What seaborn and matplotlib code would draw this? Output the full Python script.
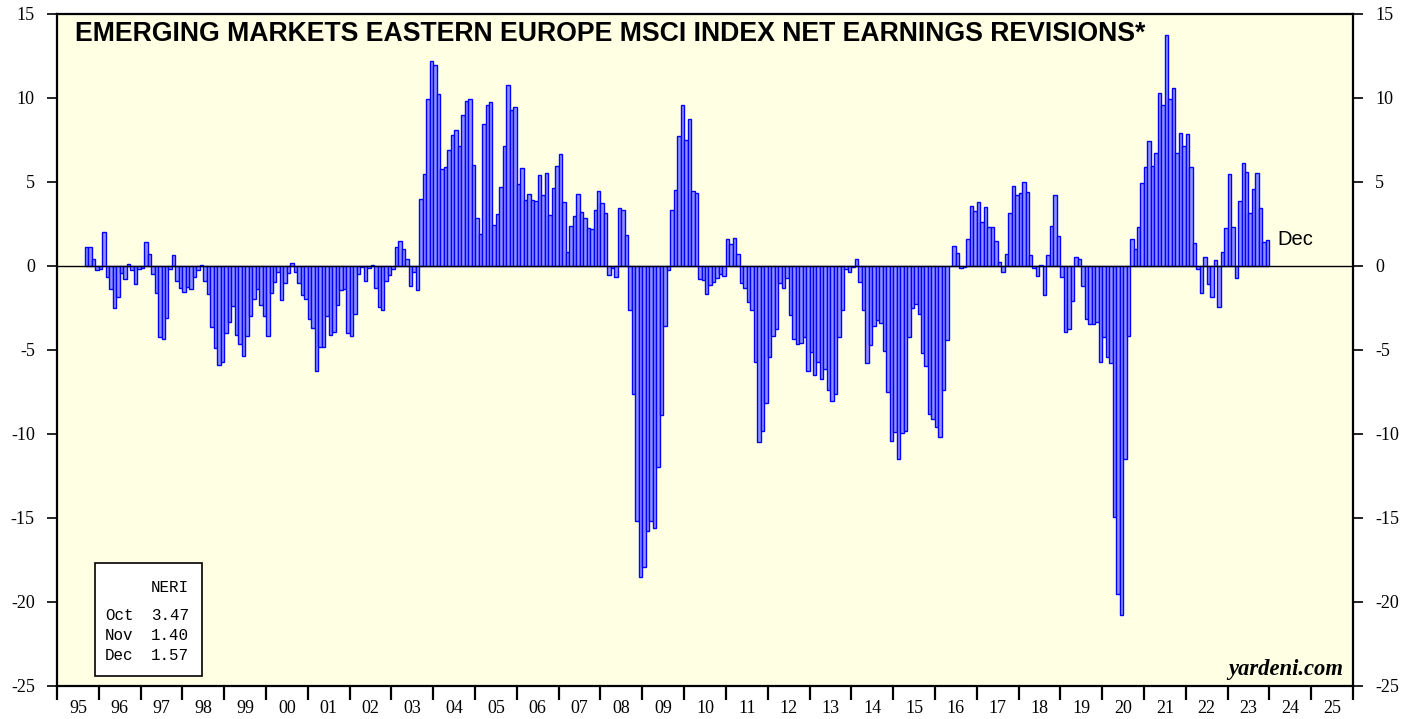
import matplotlib

matplotlib.use("Agg")
import matplotlib.pyplot as plt
import numpy as np
import pandas as pd
import seaborn as sns
from matplotlib.patches import Rectangle
from matplotlib.ticker import FixedFormatter, FixedLocator

# monthly NERI values, first value is Sep 1995
first_year = 1995
first_month = 9
neri_1995 = [1.15, 1.15, 0.4, -0.24]
neri_1996 = [-0.2, 2.0, -0.67, -1.39, -2.5, -1.83, -0.44, -0.77, 0.1, -0.24, -1.05, -0.2]
neri_1997 = [-0.14, 1.4, 0.71, -0.5, -1.63, -4.25, -4.35, -3.11, -0.18, 0.63, -0.9, -1.33]
neri_1998 = [-1.57, -1.27, -1.39, -0.65, -0.26, 0.04, -0.9, -1.67, -3.63, -4.9, -5.89, -5.73]
neri_1999 = [-3.99, -3.31, -2.36, -4.1, -4.66, -5.34, -4.17, -2.96, -1.98, -1.39, -2.32, -3.0]
neri_2000 = [-4.17, -1.6, -0.95, -0.34, -2.0, -1.03, -0.4, 0.16, -0.38, -1.03, -1.7, -1.94]
neri_2001 = [-3.17, -3.7, -6.25, -4.84, -4.84, -3.0, -4.13, -3.95, -2.32, -1.43, -1.39, -4.0]
neri_2002 = [-4.17, -2.86, -0.5, -0.04, -0.9, -0.1, 0.08, -1.29, -2.46, -2.62, -0.91, -0.54]
neri_2003 = [-0.18, 1.11, 1.5, 1.03, 0.44, -1.18, -0.38, -1.43, 3.99, 5.5, 9.96, 12.18]
neri_2004 = [11.98, 10.26, 5.75, 5.9, 6.88, 7.82, 8.1, 7.16, 9.0, 9.82, 9.96, 5.99]
neri_2005 = [2.84, 1.88, 8.45, 9.56, 9.74, 2.44, 3.08, 4.68, 7.16, 10.75, 9.27, 9.48]
neri_2006 = [4.86, 5.85, 3.95, 4.31, 3.95, 3.89, 5.44, 4.25, 5.52, 3.06, 4.62, 5.93]
neri_2007 = [6.69, 3.83, 0.85, 2.36, 2.96, 4.29, 3.23, 2.84, 2.24, 2.18, 3.31, 4.44]
neri_2008 = [3.77, 3.17, -0.54, -0.1, -0.65, 3.47, 3.33, 1.85, -2.64, -7.6, -15.16, -18.5]
neri_2009 = [-17.9, -15.8, -15.2, -15.6, -11.98, -8.85, -3.6, -0.22, 3.31, 4.5, 7.76, 9.6]
neri_2010 = [7.52, 8.73, 4.44, 4.35, -0.77, -0.81, -1.65, -1.13, -0.97, -0.73, -0.46, -0.62]
neri_2011 = [1.6, 1.29, 1.69, 0.69, -0.99, -1.31, -2.12, -2.62, -5.71, -10.5, -9.8, -8.17]
neri_2012 = [-5.4, -4.15, -3.73, -1.03, -1.31, -0.73, -2.9, -4.35, -4.66, -4.6, -4.25, -6.25]
neri_2013 = [-5.14, -6.51, -5.69, -6.73, -6.11, -7.38, -8.04, -7.62, -4.25, -2.62, -0.2, -0.38]
neri_2014 = [-0.04, 0.4, -0.95, -2.62, -5.77, -4.7, -3.57, -3.21, -3.41, -5.08, -7.5, -10.4]
neri_2015 = [-9.88, -11.49, -9.92, -9.82, -4.25, -2.52, -2.26, -2.84, -5.18, -5.93, -8.79, -9.1]
neri_2016 = [-9.56, -10.18, -7.38, -4.4, 0.0, 1.21, 0.75, -0.12, -0.05, 1.59, 3.57, 3.25]
neri_2017 = [3.79, 2.64, 3.53, 2.34, 2.34, 1.49, 0.22, -0.36, 0.69, 3.13, 4.76, 4.23]
neri_2018 = [4.37, 4.98, 4.38, 0.63, -0.14, -0.6, 0.05, -1.71, 0.65, 2.36, 4.23, 1.77]
neri_2019 = [-0.67, -3.93, -3.77, -2.06, 0.52, 0.44, -1.21, -3.13, -3.47, -3.43, -3.31, -5.73]
neri_2020 = [-4.23, -5.42, -5.77, -14.96, -19.52, -20.75, -11.49, -4.15, 1.59, 0.99, 2.34, 4.96]
neri_2021 = [5.91, 7.46, 5.95, 6.71, 10.28, 9.58, 13.77, 9.96, 10.6, 6.71, 7.94, 7.14]
neri_2022 = [7.88, 5.87, 1.35, -0.16, -1.59, 0.56, -1.07, -1.83, 0.36, -2.46, 0.85, 2.28]
neri_2023 = [5.48, 2.34, -0.71, 3.89, 6.11, 5.62, 3.17, 4.56, 5.56, 3.47, 1.40, 1.57]

year_labels = ["95", "96", "97", "98", "99", "00", "01", "02", "03", "04", "05",
               "06", "07", "08", "09", "10", "11", "12", "13", "14", "15", "16",
               "17", "18", "19", "20", "21", "22", "23", "24", "25"]
y_ticks = [-25, -20, -15, -10, -5, 0, 5, 10, 15]
legend_months = ["Oct", "Nov", "Dec"]
title = "EMERGING MARKETS EASTERN EUROPE MSCI INDEX NET EARNINGS REVISIONS*"

W, H = 1421, 719


def fx(px):
    return px / W


def fy(py):
    return 1 - py / H


values = np.concatenate([
    neri_1995, neri_1996, neri_1997, neri_1998, neri_1999, neri_2000,
    neri_2001, neri_2002, neri_2003, neri_2004, neri_2005, neri_2006,
    neri_2007, neri_2008, neri_2009, neri_2010, neri_2011, neri_2012,
    neri_2013, neri_2014, neri_2015, neri_2016, neri_2017, neri_2018,
    neri_2019, neri_2020, neri_2021, neri_2022, neri_2023,
])
month_idx = np.arange(len(values)) + (first_month - 1)
df = pd.DataFrame({
    "t": first_year + (month_idx + 0.5) / 12.0,
    "neri": values,
})

plt.rcParams["font.family"] = ["Liberation Serif", "DejaVu Serif"]
plt.rcParams["axes.unicode_minus"] = False

fig = plt.figure(figsize=(W / 100, H / 100), dpi=100)
ax = fig.add_axes([fx(57), fy(686), fx(1353 - 57), (686 - 14) / H])
ax.set_facecolor("#ffffe4")

sns.barplot(
    data=df,
    x="t",
    y="neri",
    native_scale=True,
    width=1.0,
    color="#9090ff",
    saturation=1,
    edgecolor="#0000ff",
    linewidth=1.0,
    errorbar=None,
    ax=ax,
)
ax.axhline(0, color="black", lw=1.0, zorder=4)

ax.set_xlim(1995, 2026)
ax.set_ylim(-25, 15)
ax.set_xlabel("")
ax.set_ylabel("")

# y axis on both sides
ax.set_yticks(y_ticks)
ax.set_yticklabels([str(v) for v in y_ticks])
ax.tick_params(axis="y", direction="out", length=7.5, width=1.2,
               left=True, right=True, labelleft=True, labelright=True,
               pad=8.5, labelsize=13)

# year boundaries as ticks, labels centred in each year
ax.xaxis.set_major_locator(FixedLocator(np.arange(1995, 2027)))
ax.xaxis.set_major_formatter(FixedFormatter([""] * 32))
ax.xaxis.set_minor_locator(FixedLocator(np.arange(1995, 2026) + 0.5))
ax.xaxis.set_minor_formatter(FixedFormatter(year_labels))
ax.tick_params(axis="x", which="major", direction="out", length=10,
               width=1.6, bottom=True, top=False)
ax.tick_params(axis="x", which="minor", length=0, pad=10, labelsize=13)

for sp in ax.spines.values():
    sp.set_linewidth(1.6)
    sp.set_color("black")

fig.text(fx(75), fy(34), title, family="Liberation Sans", weight="bold",
         size=19.2, va="center", ha="left")

ax.annotate("Dec", xy=(2024.0, values[-1]), xytext=(6, 0),
            textcoords="offset points", va="center", ha="left",
            family="Liberation Sans", size=14.5)

fig.text(fx(1343), fy(670), "yardeni.com", weight="bold", style="italic",
         size=16.3, ha="right", va="center")

# small value box bottom left
fig.add_artist(Rectangle((fx(95), fy(676)), fx(202 - 95), (676 - 563) / H,
                         transform=fig.transFigure, facecolor="white",
                         edgecolor="black", lw=1.2, zorder=5))
fig.text(fx(189), fy(587), "NERI", family="Liberation Mono", size=11.4,
         ha="right", va="center", zorder=6)
for k, (m, v) in enumerate(zip(legend_months, values[-3:])):
    y = 616 + k * 19.8
    fig.text(fx(105), fy(y), m, family="Liberation Mono", size=11.4,
             ha="left", va="center", zorder=6)
    fig.text(fx(189), fy(y), f"{v:.2f}", family="Liberation Mono", size=11.4,
             ha="right", va="center", zorder=6)

fig.savefig("out.png", dpi=100, facecolor="white")
